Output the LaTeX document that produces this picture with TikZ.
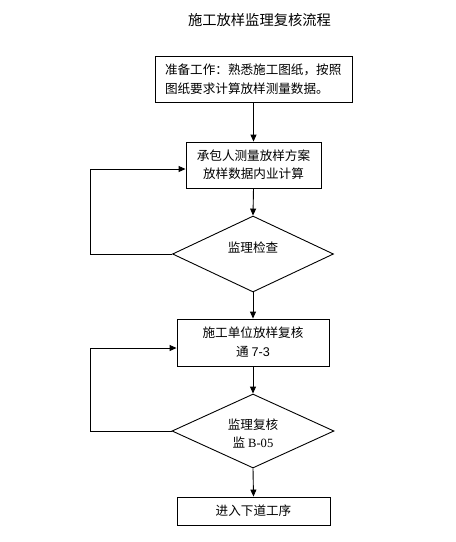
\documentclass[tikz,border=0pt]{standalone}
\usepackage{fontspec}
\setmainfont{Liberation Serif}
\newfontfamily\cjk{Noto Sans CJK SC}
\newfontfamily\arialf{Liberation Sans}
\usetikzlibrary{shapes.geometric,arrows.meta}
\begin{document}
\begin{tikzpicture}[x=1pt,y=-1pt,
  box/.style={draw,line width=0.9pt,inner sep=0pt,align=center},
  dia/.style={draw,line width=0.9pt,diamond,inner sep=0pt},
  txt/.style={inner sep=0pt,align=center},
  arr/.style={line width=0.9pt,-{Triangle[length=7pt,width=6pt]}},
  ln/.style={line width=0.9pt}]
\useasboundingbox (0,0) rectangle (456,542);
\node[txt,font=\cjk\fontsize{14.3}{17}\selectfont] (title) at (259.5,20) {施工放样监理复核流程};
\node[box,minimum width=197pt,minimum height=46pt,text width=177pt,align=left,
  font=\cjk\fontsize{12.6}{19}\selectfont] (b1) at (253.5,79)
  {准备工作：熟悉施工图纸，按照\\图纸要求计算放样测量数据。};
\node[box,minimum width=135pt,minimum height=46pt,font=\cjk\fontsize{12.6}{18}\selectfont] (b2) at (253.5,165)
  {承包人测量放样方案\\放样数据内业计算};
\node[dia,minimum width=161pt,minimum height=76pt] (d1) at (253,254) {};
\node[txt,font=\cjk\fontsize{12.6}{18}\selectfont] (t1) at (253,248) {监理检查};
\node[box,minimum width=152pt,minimum height=47pt,font=\cjk\fontsize{12.6}{19}\selectfont] (b3) at (253,342.5)
  {施工单位放样复核\\通 {\arialf 7-3}};
\node[dia,minimum width=162pt,minimum height=74pt] (d2) at (253,431) {};
\node[txt,font=\cjk\fontsize{12.6}{18}\selectfont] (t2) at (253,434) {监理复核\\监 {\rmfamily B-05}};
\node[box,minimum width=153pt,minimum height=28pt,font=\cjk\fontsize{12.6}{18}\selectfont] (b4) at (253.5,511)
  {进入下道工序};
\coordinate (l1) at (90,254);
\coordinate (l2) at (90,431);
\draw[arr] (b1.south) -- (b2.north);
\draw[arr] (b2.south) -- (d1.north);
\draw[arr] (d1.south) -- (b3.north);
\draw[arr] (b3.south) -- (d2.north);
\draw[arr] (d2.south) -- (b4.north);
\draw[arr] (d1.west) -- (l1) |- ([yshift=-4pt]b2.west);
\draw[arr] (d2.west) -- (l2) |- ([yshift=-5.5pt]b3.west);
\end{tikzpicture}
\end{document}
